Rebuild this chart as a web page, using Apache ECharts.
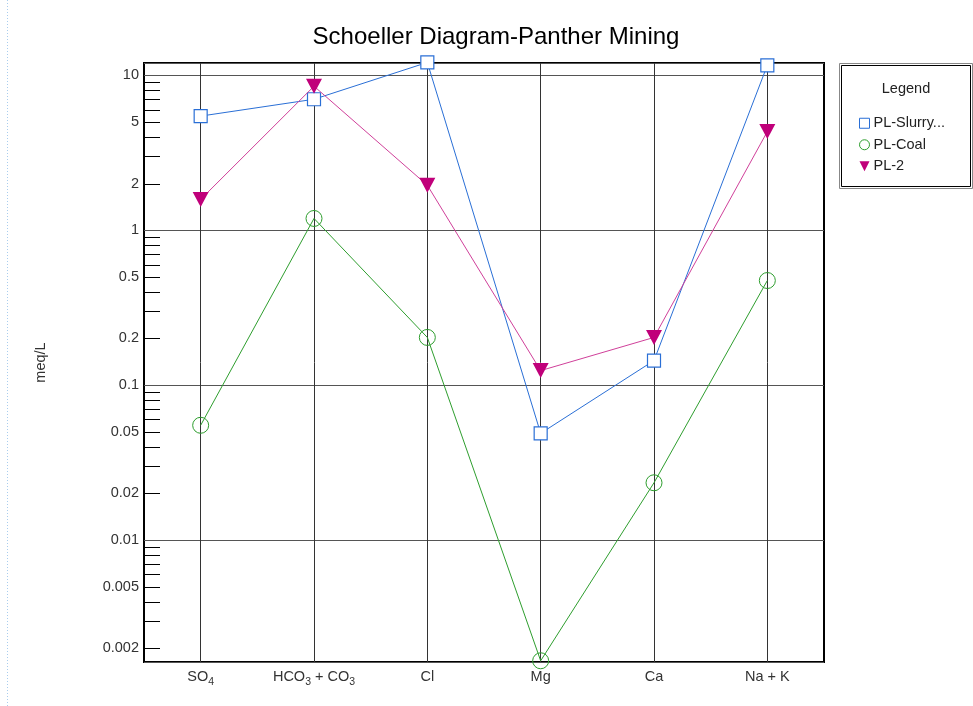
<!DOCTYPE html>
<html>
<head>
<meta charset="utf-8">
<title>Schoeller Diagram-Panther Mining</title>
<script src="https://cdn.jsdelivr.net/npm/echarts@6/dist/echarts.min.js"></script>
<style>
  html, body { margin: 0; padding: 0; background: #fff; }
  #chart { width: 973px; height: 706px; }
</style>
</head>
<body>
<div id="chart"></div>
<script>
// Ions along the horizontal axis
const categories = ['SO4', 'HCO3 + CO3', 'Cl', 'Mg', 'Ca', 'Na + K'];

// Concentrations in meq/L
const slurryValues = [5.45, 7.0, 12.1, 0.0488, 0.144, 11.6];
const coalValues   = [0.055, 1.19, 0.203, 0.00166, 0.0234, 0.473];
const pl2Values    = [1.58, 8.5, 1.95, 0.124, 0.203, 4.33];

// Log scale range of the concentration axis
const yMin = 0.00163;
const yMax = 12.0;

// Intermediate ticks between decades, and the ones that carry a label
const minorTicks = [
  0.002, 0.003, 0.004, 0.005, 0.006, 0.007, 0.008, 0.009,
  0.02, 0.03, 0.04, 0.05, 0.06, 0.07, 0.08, 0.09,
  0.2, 0.3, 0.4, 0.5, 0.6, 0.7, 0.8, 0.9,
  2, 3, 4, 5, 6, 7, 8, 9
];
const minorLabels = ['0.002', '0.005', '0.02', '0.05', '0.2', '0.5', '2', '5'];

const FONT = '"Liberation Sans", Arial, sans-serif';
const FS = 14.5;

function ionLabel(name) {
  // digits become subscripts
  return name.split(/(\d)/).filter(s => s.length).map(s =>
    /^\d$/.test(s) ? '{s|' + s + '}' : '{n|' + s + '}'
  ).join('');
}

const chart = echarts.init(document.getElementById('chart'), null, { renderer: 'canvas' });

const option = {
  animation: false,
  backgroundColor: '#fff',
  title: {
    text: 'Schoeller Diagram-Panther Mining',
    left: 491,
    top: 20,
    textAlign: 'center',
    textStyle: { fontFamily: FONT, fontSize: 24, fontWeight: 'normal', color: '#000' }
  },
  grid: {
    left: 144, top: 63, width: 680, height: 599,
    show: true, borderColor: '#000', borderWidth: 2, backgroundColor: 'transparent'
  },
  legend: {
    orient: 'vertical',
    left: 859, top: 115,
    padding: 0,
    itemWidth: 10, itemHeight: 10, itemGap: 5,
    textStyle: { fontFamily: FONT, fontSize: FS, color: '#222', lineHeight: 16.5, padding: [0, 0, 0, -1] },
    data: [
      { name: 'PL-Slurry...', icon: 'rect',
        itemStyle: { color: '#fff', borderColor: '#2a6fd6', borderWidth: 1 } },
      { name: 'PL-Coal', icon: 'circle',
        itemStyle: { color: '#fff', borderColor: '#2e9e2e', borderWidth: 1 } },
      { name: 'PL-2', icon: 'path://M0,0 L10,0 L5,10 Z',
        itemStyle: { color: '#c0007a', borderWidth: 0 } }
    ]
  },
  graphic: [
    { type: 'line', shape: { x1: 7.5, y1: 0, x2: 7.5, y2: 706 },
      style: { stroke: '#a9cdee', lineWidth: 1, lineDash: [1, 2] } },
    { type: 'rect', shape: { x: 839.5, y: 63.5, width: 133, height: 125 },
      style: { fill: 'none', stroke: '#888', lineWidth: 1 } },
    { type: 'rect', shape: { x: 841.5, y: 65.5, width: 129, height: 121 },
      style: { fill: 'none', stroke: '#000', lineWidth: 1 } },
    { type: 'text', x: 906, y: 89,
      style: { text: 'Legend', font: FS + 'px ' + FONT, fill: '#222', align: 'center', verticalAlign: 'middle' } }
  ],
  xAxis: {
    type: 'category',
    data: categories,
    boundaryGap: true,
    axisLine: { show: false },
    axisTick: { show: false },
    axisLabel: {
      margin: 7,
      interval: 0,
      formatter: (v) => ionLabel(v),
      rich: {
        n: { fontFamily: FONT, fontSize: FS, color: '#333', lineHeight: 15, verticalAlign: 'top' },
        s: { fontFamily: FONT, fontSize: 10.5, color: '#333', lineHeight: 19, verticalAlign: 'bottom' }
      }
    },
    splitLine: { show: true, alignWithLabel: true, lineStyle: { color: '#333', width: 1 } }
  },
  yAxis: {
    type: 'log',
    logBase: 10,
    min: yMin,
    max: yMax,
    name: 'meq/L',
    nameLocation: 'middle',
    nameGap: 96,
    nameTextStyle: { fontFamily: FONT, fontSize: FS, color: '#333' },
    axisLine: { show: false },
    axisTick: { show: false },
    axisLabel: {
      showMinLabel: false, showMaxLabel: false,
      margin: 5,
      fontFamily: FONT, fontSize: FS, color: '#333',
      formatter: (v) => String(+v.toPrecision(3))
    },
    splitLine: { show: true, lineStyle: { color: '#555', width: 1 } }
  },
  series: [
    {
      name: 'PL-Slurry...',
      type: 'line',
      data: slurryValues,
      clip: false,
      symbol: 'rect', symbolSize: 13,
      lineStyle: { color: '#2a6fd6', width: 1 },
      itemStyle: { color: '#fff', borderColor: '#2a6fd6', borderWidth: 1.2 },
      z: 3
    },
    {
      name: 'PL-Coal',
      type: 'line',
      data: coalValues,
      clip: false,
      symbol: 'circle', symbolSize: 16,
      lineStyle: { color: '#2e9e2e', width: 1 },
      itemStyle: { color: 'rgba(255,255,255,0)', borderColor: '#2e9e2e', borderWidth: 1 },
      z: 3
    },
    {
      name: 'PL-2',
      type: 'line',
      data: pl2Values,
      clip: false,
      symbol: 'path://M0,0 L10,0 L5,10 Z', symbolSize: [16, 15],
      lineStyle: { color: '#d0409a', width: 1 },
      itemStyle: { color: '#c0007a', borderWidth: 0 },
      z: 4
    },
    {
      // intermediate ticks on the concentration axis, with their labels
      type: 'custom',
      silent: true,
      clip: false,
      z: 1,
      data: minorTicks.map(v => [0, v]),
      renderItem: (params, api) => {
        const v = api.value(1);
        const y = api.coord([0, v])[1];
        const x = params.coordSys.x;
        const children = [{
          type: 'line',
          shape: { x1: x, y1: Math.round(y) + 0.5, x2: x + 16, y2: Math.round(y) + 0.5 },
          style: { stroke: '#000', lineWidth: 1 }
        }];
        const txt = String(+v.toPrecision(3));
        if (minorLabels.indexOf(txt) >= 0) {
          children.push({
            type: 'text',
            x: x - 5, y: y,
            style: { text: txt, font: FS + 'px ' + FONT, fill: '#333', align: 'right', verticalAlign: 'middle' }
          });
        }
        return { type: 'group', children: children };
      }
    }
  ]
};

chart.setOption(option);
</script>
</body>
</html>
